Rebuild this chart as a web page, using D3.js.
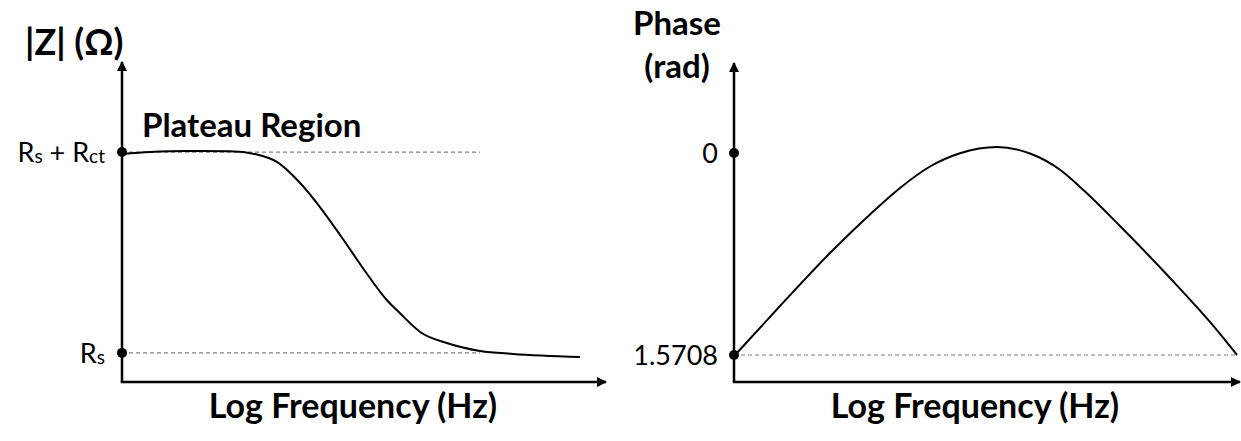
<!DOCTYPE html>
<html>
<head>
<meta charset="utf-8">
<script src="https://cdn.jsdelivr.net/npm/d3@7"></script>
<style>
  html, body { margin: 0; padding: 0; background: #fff; }
  svg { display: block; }
  text { font-family: Lato, "Open Sans", sans-serif; fill: #000; }
</style>
</head>
<body>
<svg id="chart" width="1241" height="441"></svg>
<script>
// Impedance magnitude vs log frequency (arbitrary log-frequency units 0..10)
const magLogFreq = [0, 0.58, 1.34, 2.23, 2.85, 3.2, 3.68, 4.09, 4.55, 5.02, 5.47, 5.74, 6.16, 6.71, 7.4, 8.08, 9.46];
const magValues  = [156.8, 158.1, 158.8, 158.6, 155.9, 151.3, 136.8, 120.3, 99, 76.3, 56.4, 47.4, 34.4, 26.8, 21.3, 19.3, 17.2];
const magRefLevels = [158.1, 20];            // Rs + Rct, Rs
const magRefLabels = [["R", "s", " + R", "ct"], ["R", "s"]];

// Phase vs log frequency
const phaseLogFreq = [0.02, 0.909, 1.897, 2.688, 3.281, 3.874, 4.466, 5.198, 5.85, 6.443, 6.937, 7.628, 8.617, 9.407, 9.941];
const phaseValues  = [1.5708, 1.19, 0.778, 0.478, 0.272, 0.105, 0.0016, -0.0467, 0.0039, 0.130, 0.300, 0.568, 0.972, 1.314, 1.5708];
const phaseRefLevels = [0, 1.5708];
const phaseRefLabels = ["0", "1.5708"];

const svg = d3.select("#chart");

// arrow head marker
svg.append("defs").append("marker")
  .attr("id", "arrow")
  .attr("viewBox", "0 0 10 10")
  .attr("refX", 9).attr("refY", 5)
  .attr("markerWidth", 4).attr("markerHeight", 4)
  .attr("markerUnits", "strokeWidth")
  .attr("orient", "auto")
  .append("path").attr("d", "M0,0 L10,5 L0,10 Z").attr("fill", "#000");

function drawAxes(g, x0, x1, yTop, yAxis) {
  g.append("line").attr("x1", x0).attr("y1", yAxis).attr("x2", x0).attr("y2", yTop)
    .attr("stroke", "#000").attr("stroke-width", 2.5).attr("marker-end", "url(#arrow)");
  g.append("line").attr("x1", x0 - 1.25).attr("y1", yAxis).attr("x2", x1).attr("y2", yAxis)
    .attr("stroke", "#000").attr("stroke-width", 2.5).attr("marker-end", "url(#arrow)");
}

// ---------- |Z| panel ----------
{
  const x = d3.scaleLinear().domain([0, 10]).range([122, 606]);
  const y = d3.scaleLinear().domain([0, 220]).range([382, 62]);
  const g = svg.append("g");

  g.selectAll("line.ref").data(magRefLevels).join("line").attr("class", "ref")
    .attr("x1", x(0)).attr("x2", 480)
    .attr("y1", d => y(d)).attr("y2", d => y(d))
    .attr("stroke", "#808080").attr("stroke-width", 1.2).attr("stroke-dasharray", "4,3");

  drawAxes(g, x(0), x(10), y(220), y(0));

  const line = d3.line().x(d => x(d[0])).y(d => y(d[1])).curve(d3.curveMonotoneX);
  g.append("path").datum(d3.zip(magLogFreq, magValues))
    .attr("d", line).attr("fill", "none").attr("stroke", "#000").attr("stroke-width", 2);

  g.selectAll("circle").data(magRefLevels).join("circle")
    .attr("cx", x(0)).attr("cy", d => y(d)).attr("r", 5).attr("fill", "#000");

  const lbl = g.selectAll("text.tick").data(magRefLevels).join("text").attr("class", "tick")
    .attr("x", x(0) - 17).attr("y", d => y(d) + 10)
    .attr("text-anchor", "end").attr("font-size", 27);
  lbl.each(function(d, i) {
    const t = d3.select(this);
    magRefLabels[i].forEach((s, j) => {
      const sub = j % 2 === 1;
      t.append("tspan").text(s)
        .attr("font-size", sub ? 19 : 27)
        .attr("dy", sub ? 1 : (j === 0 ? 0 : -1));
    });
  });

  g.append("text").attr("x", 25).attr("y", 55).attr("font-size", 36).attr("font-weight", "bold")
    .text("|Z| (Ω)");
  g.append("text").attr("x", 142).attr("y", 137).attr("font-size", 33).attr("font-weight", "bold")
    .text("Plateau Region");
  g.append("text").attr("x", 353).attr("y", 418).attr("text-anchor", "middle")
    .attr("font-size", 34).attr("font-weight", "bold").text("Log Frequency (Hz)");
}

// ---------- Phase panel ----------
{
  const x = d3.scaleLinear().domain([0, 10]).range([734, 1240]);
  const y = d3.scaleLinear().domain([1.5708, 0]).range([355, 153]);
  const g = svg.append("g");

  g.append("line").attr("class", "ref")
    .attr("x1", x(0)).attr("x2", x(9.94))
    .attr("y1", y(1.5708)).attr("y2", y(1.5708))
    .attr("stroke", "#808080").attr("stroke-width", 1.2).attr("stroke-dasharray", "4,3");

  drawAxes(g, x(0), x(10), 63, 382);

  const line = d3.line().x(d => x(d[0])).y(d => y(d[1])).curve(d3.curveMonotoneX);
  g.append("path").datum(d3.zip(phaseLogFreq, phaseValues))
    .attr("d", line).attr("fill", "none").attr("stroke", "#000").attr("stroke-width", 2);

  g.selectAll("circle").data(phaseRefLevels).join("circle")
    .attr("cx", x(0)).attr("cy", d => y(d)).attr("r", 5).attr("fill", "#000");

  g.selectAll("text.tick").data(phaseRefLevels).join("text").attr("class", "tick")
    .attr("x", x(0) - 16).attr("y", d => y(d) + 10)
    .attr("text-anchor", "end").attr("font-size", 27)
    .text((d, i) => phaseRefLabels[i]);

  g.append("text").attr("x", 677).attr("y", 35).attr("text-anchor", "middle")
    .attr("font-size", 33).attr("font-weight", "bold").text("Phase");
  g.append("text").attr("x", 677).attr("y", 78).attr("text-anchor", "middle")
    .attr("font-size", 33).attr("font-weight", "bold").text("(rad)");
  g.append("text").attr("x", 975).attr("y", 418).attr("text-anchor", "middle")
    .attr("font-size", 34).attr("font-weight", "bold").text("Log Frequency (Hz)");
}
</script>
</body>
</html>
